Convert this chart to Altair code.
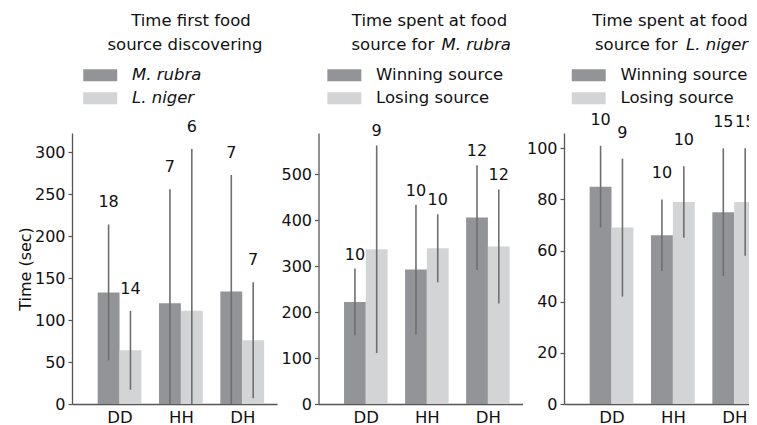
import altair as alt
import pandas as pd

groups = ["DD", "HH", "DH"]

# Panel 1: time of first food source discovery
p1_series = ["M. rubra", "L. niger"]
p1_mean_a = [133, 120, 134]
p1_sd_a = [81, 136, 139]
p1_n_a = [18, 7, 7]
p1_mean_b = [64, 111, 76]
p1_sd_b = [47, 193, 69]
p1_n_b = [14, 6, 7]

# Panel 2: time spent at food source for M. rubra
p2_series = ["Winning source", "Losing source"]
p2_mean_a = [222, 293, 406]
p2_sd_a = [73, 141, 114]
p2_n_a = [10, 10, 12]
p2_mean_b = [337, 339, 343]
p2_sd_b = [226, 74, 124]
p2_n_b = [9, 10, 12]

# Panel 3: time spent at food source for L. niger
p3_series = ["Winning source", "Losing source"]
p3_mean_a = [85, 66, 75]
p3_sd_a = [16, 14, 25]
p3_n_a = [10, 10, 15]
p3_mean_b = [69, 79, 79]
p3_sd_b = [27, 14, 21]
p3_n_b = [9, 10, 15]

FONT = "DejaVu Sans"
DARK = "#939497"
LIGHT = "#d3d4d6"
ERR = "#6f6f6f"
H = 271
BAR_W = 0.3566          # bar width in units of the group step
X_DOMAIN = [-0.693, 2.485]


def frame(series, ma, sa, na, mb, sb, nb):
    rows = []
    for i, g in enumerate(groups):
        rows.append({"group": g, "idx": i, "side": 0, "series": series[0],
                     "mean": ma[i], "sd": sa[i], "n": na[i]})
        rows.append({"group": g, "idx": i, "side": 1, "series": series[1],
                     "mean": mb[i], "sd": sb[i], "n": nb[i]})
    return pd.DataFrame(rows)


def txt(text, x, y, align="center", style="normal"):
    return alt.Chart(pd.DataFrame({"t": [text]})).mark_text(
        font=FONT, fontSize=16.5, fontStyle=style, align=align,
        baseline="alphabetic", color="#111"
    ).encode(text="t:N", x=alt.value(x), y=alt.value(y))


def panel(df, series, width, ymax, yticks, ytitle, label_dy, leg_x, leg_style, titles):
    base = alt.Chart(df).transform_calculate(
        lo="max(0, datum.mean - datum.sd)",
        hi="datum.mean + datum.sd",
        x0=f"datum.idx - {BAR_W} + datum.side * {BAR_W}",
    ).transform_calculate(
        x1=f"datum.x0 + {BAR_W}",
        xc=f"datum.x0 + {BAR_W / 2}",
    )
    xscale = alt.Scale(domain=X_DOMAIN, nice=False, zero=False)
    xaxis = alt.Axis(values=[0, 1, 2], labelExpr="['DD','HH','DH'][datum.value]",
                     labelAngle=0, ticks=False, tickSize=0, labelPadding=5,
                     labelFlush=False, labelFontSize=16.5, grid=False, title=None)
    yscale = alt.Scale(domain=[0, ymax], nice=False, zero=True)
    if ytitle:
        yaxis = alt.Axis(values=yticks, title=ytitle, grid=False, titlePadding=1)
    else:
        yaxis = alt.Axis(values=yticks, title=None, grid=False)
    bars = base.mark_bar(orient="vertical").encode(
        x=alt.X("x0:Q", scale=xscale, axis=xaxis), x2="x1:Q",
        y=alt.Y("mean:Q", scale=yscale, axis=yaxis), y2=alt.datum(0),
        color=alt.Color("series:N",
                        scale=alt.Scale(domain=series, range=[DARK, LIGHT]),
                        legend=alt.Legend(
                            title=None, orient="none", legendX=leg_x, legendY=-66,
                            direction="vertical",
                            symbolType="M-2.83,-1H2.83V1H-2.83Z",
                            symbolSize=144, symbolOffset=11, symbolStrokeWidth=0,
                            symbolOpacity=1,
                            labelOffset=23.5, labelFont=FONT, labelFontSize=16.5,
                            labelFontStyle=leg_style, labelColor="#111",
                            rowPadding=6)),
    )
    errs = base.mark_rule(color=ERR, strokeWidth=1.6).encode(
        x=alt.X("xc:Q", scale=xscale), y=alt.Y("lo:Q", scale=yscale), y2="hi:Q"
    )
    labels = base.mark_text(font=FONT, fontSize=16, baseline="middle",
                            dy=-label_dy, color="#111").encode(
        x=alt.X("xc:Q", scale=xscale), y=alt.Y("hi:Q", scale=yscale), text="n:Q"
    )
    layers = [bars, errs, labels] + titles
    return alt.layer(*layers).properties(width=width, height=H)


df1 = frame(p1_series, p1_mean_a, p1_sd_a, p1_n_a, p1_mean_b, p1_sd_b, p1_n_b)
df2 = frame(p2_series, p2_mean_a, p2_sd_a, p2_n_a, p2_mean_b, p2_sd_b, p2_n_b)
df3 = frame(p3_series, p3_mean_a, p3_sd_a, p3_n_a, p3_mean_b, p3_sd_b, p3_n_b)

c1 = panel(df1, p1_series, 205, 323, [0, 50, 100, 150, 200, 250, 300], "Time (sec)", 22, 9,
           "italic",
           [txt("Time first food", 119, -107), txt("source discovering", 113, -83)])
c2 = panel(df2, p2_series, 204, 590, [0, 100, 200, 300, 400, 500], None, 14, 6.6, "normal",
           [txt("Time spent at food", 111, -107),
            txt("source for", 33, -83, align="left"),
            txt("M. rubra", 123, -83, align="left", style="italic")])
c3 = panel(df3, p3_series, 205, 106, [0, 20, 40, 60, 80, 100], None, 26, 5.5, "normal",
           [txt("Time spent at food", 106, -107),
            txt("source for", 31, -83, align="left"),
            txt("L. niger", 122, -83, align="left", style="italic")])

chart = alt.hconcat(c1, c2, c3, spacing=41.5, bounds="flush").resolve_scale(
    color="independent", y="independent", x="independent"
).resolve_legend(color="independent").properties(
    padding={"left": 9, "top": 5, "right": -20, "bottom": 0}
).configure_view(stroke=None).configure_axis(
    labelFont=FONT, labelFontSize=16, labelColor="#111",
    titleFont=FONT, titleFontSize=16, titleFontWeight="normal", titleColor="#111",
    domainColor="#555", domainWidth=1.3, tickColor="#555", tickWidth=1.2, tickSize=4,
    labelPadding=3
)

chart.save("out.html", embed_options={"renderer": "svg", "actions": False})
